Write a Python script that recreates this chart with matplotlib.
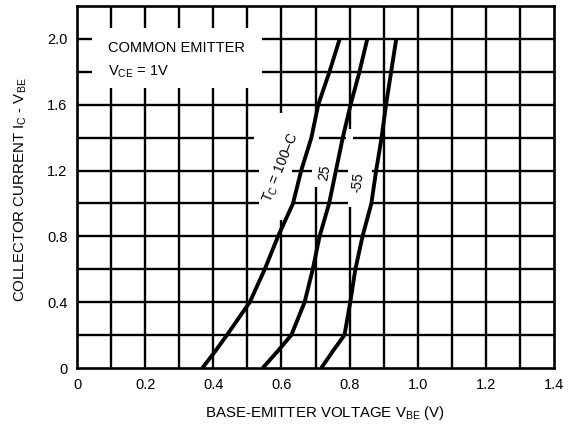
import matplotlib
matplotlib.use("Agg")
import matplotlib.pyplot as plt
import numpy as np

plt.rcParams['font.family'] = ['Liberation Sans', 'DejaVu Sans']
plt.rcParams['mathtext.fontset'] = 'custom'
plt.rcParams['mathtext.rm'] = 'Liberation Sans'
plt.rcParams['mathtext.it'] = 'Liberation Sans'

# Data
ic = [0, 0.1, 0.2, 0.4, 0.6, 0.8, 1.0, 1.2, 1.4, 1.6, 1.8, 2.0]
vbe_100 = [0.368, 0.405, 0.44, 0.507, 0.551, 0.59, 0.634, 0.658, 0.688, 0.708, 0.741, 0.771]
vbe_25 = [0.545, 0.588, 0.629, 0.668, 0.692, 0.712, 0.74, 0.76, 0.78, 0.803, 0.829, 0.852]
vbe_m55 = [0.717, 0.75, 0.785, 0.802, 0.817, 0.838, 0.864, 0.878, 0.894, 0.907, 0.922, 0.937]

x_ticks = [0, 0.2, 0.4, 0.6, 0.8, 1.0, 1.2, 1.4]
x_ticklabels = ['0', '0.2', '0.4', '0.6', '0.8', '1.0', '1.2', '1.4']
y_ticks = [0, 0.4, 0.8, 1.2, 1.6, 2.0]
y_ticklabels = ['0', '0.4', '0.8', '1.2', '1.6', '2.0']

fig = plt.figure(figsize=(5.84, 4.32), dpi=100)
ax = fig.add_axes([77/584, 1-368/432, (554-77)/584, (368-6)/432])
ax.set_xlim(0, 1.4)
ax.set_ylim(0, 2.2)

# grid
for xv in np.arange(0.1, 1.4, 0.1):
    ax.axvline(xv, color='black', lw=1.7, zorder=1)
for yv in np.arange(0.2, 2.2, 0.2):
    ax.axhline(yv, color='black', lw=1.7, zorder=1)

for s in ax.spines.values():
    s.set_linewidth(1.9)
    s.set_zorder(5)

ax.set_xticks(x_ticks)
ax.set_xticklabels(x_ticklabels)
ax.set_yticks(y_ticks)
ax.set_yticklabels(y_ticklabels)
ax.tick_params(length=0, labelsize=10.5, pad=7)

# curves
for v in (vbe_100, vbe_25, vbe_m55):
    ax.plot(v, ic, color='black', lw=2.8, zorder=4, solid_capstyle='butt')

def knock(x0, x1, y0, y1):
    ax.add_patch(plt.Rectangle((x0, y0), x1 - x0, y1 - y0, facecolor='white',
                               edgecolor='none', zorder=2))

# white box with text
knock(0.044, 0.542, 1.70, 2.067)
ax.text(0.09, 1.945, 'COMMON EMITTER', fontsize=10.5, va='center', ha='left', zorder=3)
ax.text(0.09, 1.80, r'V$_{\mathrm{CE}}$ = 1V', fontsize=10.5, va='center', ha='left', zorder=3)

# label knockouts
knock(0.535, 0.63, 0.90, 1.38)
knock(0.52, 0.69, 1.38, 1.42)
knock(0.585, 0.615, 1.42, 1.55)
knock(0.69, 0.765, 1.10, 1.30)
knock(0.69, 0.71, 1.30, 1.55)
knock(0.795, 0.865, 0.98, 1.30)
knock(0.79, 0.81, 1.30, 1.45)

# curve labels
ax.text(0.600, 1.216, r'T$_{\mathrm{C}}$ = 100–C', rotation=68, fontsize=10, ha='center', va='center',
        zorder=3)
ax.text(0.726, 1.19, '25', rotation=80, fontsize=10, ha='center', va='center', zorder=3)
ax.text(0.823, 1.13, '-55', rotation=82, fontsize=10, ha='center', va='center', zorder=3)

fig.text(21/584, 1-190/432, r'COLLECTOR CURRENT I$_{\mathrm{C}}$ - V$_{\mathrm{BE}}$', rotation=90,
         fontsize=10.8, ha='center', va='center')
fig.text(325/584, 1-413/432, r'BASE-EMITTER VOLTAGE V$_{\mathrm{BE}}$ (V)', fontsize=10.8,
         ha='center', va='center')

fig.savefig('out.png', dpi=100)
